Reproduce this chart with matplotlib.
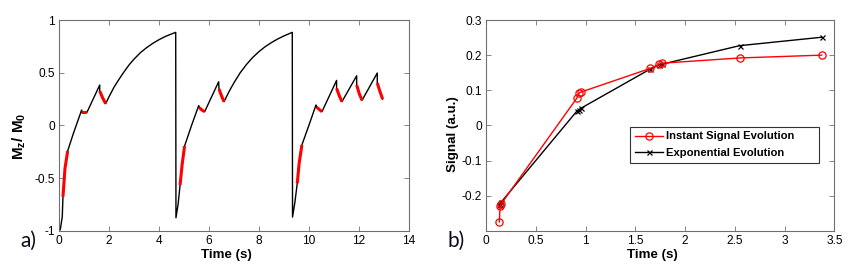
import matplotlib
matplotlib.use("Agg")
import matplotlib.pyplot as plt

plt.rcParams['font.family'] = ['Liberation Sans', 'DejaVu Sans']
plt.rcParams['mathtext.fontset'] = 'custom'
plt.rcParams['mathtext.rm'] = 'Liberation Sans'
plt.rcParams['mathtext.bf'] = 'Liberation Sans:bold'
plt.rcParams['mathtext.it'] = 'Liberation Sans:italic'

# ---------------- Panel a) : longitudinal magnetization trajectory ----------------
time_a = [0.0, 0.04, 0.12, 0.148, 0.228, 0.336, 0.56, 0.897, 0.897, 1.11, 1.62, 1.62, 1.74, 1.86,
          2.0, 2.2, 2.4, 2.6, 2.8, 3.0, 3.25, 3.5, 3.75, 4.0, 4.25, 4.5, 4.665,
          4.67, 4.675, 4.76, 4.84, 4.92, 5.02, 5.3, 5.585, 5.61, 5.825, 6.385, 6.40, 6.5, 6.6,
          6.8, 7.0, 7.25, 7.5, 7.75, 8.0, 8.25, 8.5, 8.75, 9.0, 9.335,
          9.34, 9.345, 9.44, 9.535, 9.61, 9.72, 10.0, 10.285, 10.31, 10.525, 11.11, 11.11, 11.22, 11.325,
          11.915, 11.915, 12.02, 12.13, 12.74, 12.74, 12.85, 12.955]
mz_a = [-1.0, -0.99, -0.867, -0.677, -0.41, -0.243, -0.08, 0.146, 0.124, 0.124, 0.383, 0.326, 0.26, 0.206,
        0.275, 0.365, 0.44, 0.51, 0.575, 0.63, 0.69, 0.738, 0.779, 0.814, 0.844, 0.868, 0.883,
        0.0, -0.877, -0.75, -0.566, -0.376, -0.196, 0.0, 0.187, 0.168, 0.13, 0.414, 0.345, 0.28, 0.225,
        0.32, 0.405, 0.50, 0.578, 0.645, 0.70, 0.747, 0.786, 0.82, 0.849, 0.883,
        0.0, -0.87, -0.73, -0.55, -0.36, -0.186, 0.0, 0.193, 0.174, 0.13, 0.427, 0.352, 0.28, 0.225,
        0.471, 0.383, 0.30, 0.238, 0.497, 0.402, 0.32, 0.25]

# readout segments (red)
readout_t = [
    [0.148, 0.228, 0.336],
    [0.897, 1.0, 1.11],
    [1.62, 1.74, 1.86],
    [4.84, 4.92, 5.02],
    [5.61, 5.72, 5.825],
    [6.40, 6.5, 6.6],
    [9.535, 9.61, 9.72],
    [10.31, 10.42, 10.525],
    [11.11, 11.22, 11.325],
    [11.915, 12.02, 12.13],
    [12.74, 12.85, 12.955],
]
readout_mz = [
    [-0.677, -0.41, -0.243],
    [0.124, 0.122, 0.124],
    [0.326, 0.26, 0.206],
    [-0.566, -0.376, -0.196],
    [0.168, 0.145, 0.13],
    [0.345, 0.28, 0.225],
    [-0.55, -0.36, -0.186],
    [0.174, 0.15, 0.13],
    [0.352, 0.28, 0.225],
    [0.383, 0.30, 0.238],
    [0.402, 0.32, 0.25],
]

# ---------------- Panel b) : signal evolution ----------------
time_b = [0.134, 0.141, 0.151, 0.911, 0.935, 0.955, 1.648, 1.741, 1.765, 2.548, 3.373]
instant_signal = [-0.275, -0.230, -0.224, 0.077, 0.092, 0.095, 0.162, 0.174, 0.177, 0.192, 0.200]
exponential_signal = [-0.227, -0.224, -0.219, 0.040, 0.045, 0.049, 0.160, 0.172, 0.174, 0.227, 0.251]

xticks_a = [0, 2, 4, 6, 8, 10, 12, 14]
yticks_a = [-1, -0.5, 0, 0.5, 1]
yticklabels_a = ['-1', '-0.5', '0', '0.5', '1']
xticks_b = [0, 0.5, 1, 1.5, 2, 2.5, 3, 3.5]
xticklabels_b = ['0', '0.5', '1', '1.5', '2', '2.5', '3', '3.5']
yticks_b = [-0.2, -0.1, 0, 0.1, 0.2, 0.3]
yticklabels_b = ['-0.2', '-0.1', '0', '0.1', '0.2', '0.3']

fig = plt.figure(figsize=(8.59, 2.77), dpi=100)
ax1 = fig.add_axes([0.069, 0.167, 0.4068, 0.7607])
ax2 = fig.add_axes([0.5658, 0.167, 0.4055, 0.7607])

tick_fs = 8.6
label_fs = 9.6
spine_col = '#707070'

# Panel a
ax1.plot(time_a, mz_a, color='black', lw=1.0, zorder=2)
for tt, mm in zip(readout_t, readout_mz):
    ax1.plot(tt, mm, color='#ff0000', lw=2.2, solid_capstyle='butt', zorder=3)
ax1.set_xlim(0, 14)
ax1.set_ylim(-1, 1)
ax1.set_xticks(xticks_a)
ax1.set_xticklabels([str(v) for v in xticks_a])
ax1.set_yticks(yticks_a)
ax1.set_yticklabels(yticklabels_a)
ax1.set_xlabel('Time (s)', fontsize=label_fs, fontweight='bold')
ax1.set_ylabel(r'$\mathbf{M_z / \ M_0}$', fontsize=11)
ax1.xaxis.set_label_coords(0.479, -0.085)
ax1.yaxis.set_label_coords(-0.09, 0.45)

# Panel b
ax2.plot(time_b, instant_signal, color='#ff0000', lw=1.0, marker='o', ms=5.2,
         mfc='none', mec='#ff0000', mew=0.9, label='Instant Signal Evolution', zorder=3)
ax2.plot(time_b, exponential_signal, color='black', lw=1.0, marker='x', ms=3.6,
         mew=0.9, label='Exponential Evolution', zorder=2)
ax2.set_xlim(0, 3.5)
ax2.set_ylim(-0.3, 0.3)
ax2.set_xticks(xticks_b)
ax2.set_xticklabels(xticklabels_b)
ax2.set_yticks(yticks_b)
ax2.set_yticklabels(yticklabels_b)
ax2.set_xlabel('Time (s)', fontsize=label_fs, fontweight='bold')
ax2.set_ylabel('Signal (a.u.)', fontsize=label_fs, fontweight='bold')
ax2.xaxis.set_label_coords(0.477, -0.085)
ax2.yaxis.set_label_coords(-0.078, 0.46)
leg = ax2.legend(loc='upper left', bbox_to_anchor=(0.4134, 0.307, 0.5436, 0.1866),
                 mode='expand', borderaxespad=0,
                 fancybox=False, framealpha=1, edgecolor='#333333',
                 prop={'weight': 'bold', 'size': 8.1}, handlelength=2.5,
                 handletextpad=0.3, labelspacing=0.58, borderpad=0.42)
leg.get_frame().set_linewidth(0.8)

for ax in (ax1, ax2):
    for sp in ax.spines.values():
        sp.set_color(spine_col)
        sp.set_linewidth(0.8)
    ax.tick_params(direction='in', length=3.6, width=0.6, color=spine_col,
                   top=True, right=True, labelsize=tick_fs, pad=3)

fig.text(0.033, 0.13, 'a)', fontsize=15, family=['Lato', 'DejaVu Sans'],
         color='#0a0a20', ha='center', va='center')
fig.text(0.531, 0.13, 'b)', fontsize=15, family=['Lato', 'DejaVu Sans'],
         color='#0a0a20', ha='center', va='center')

fig.savefig('out.png', dpi=100)
